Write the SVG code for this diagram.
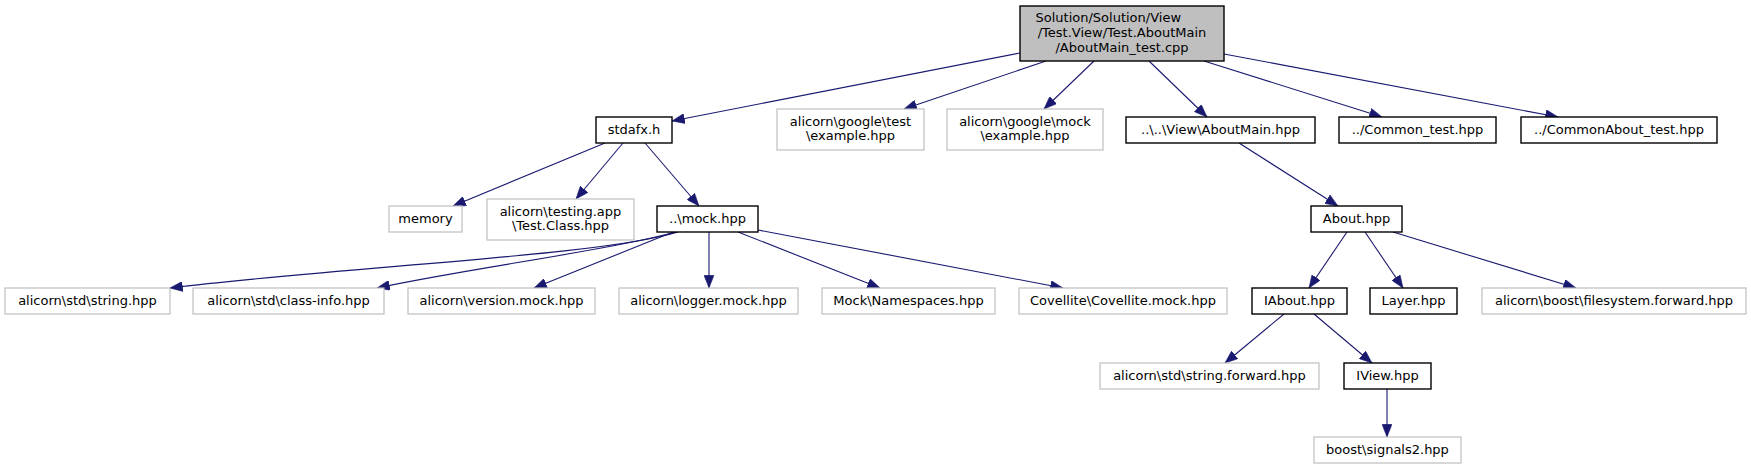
<svg xmlns="http://www.w3.org/2000/svg" width="1751" height="469" viewBox="0 0 1751 469">
<style>
rect{fill:#fff;stroke:#000;stroke-width:1.4}
.g rect{stroke:#bfbfbf;stroke-width:1.2}
.r rect{fill:#bfbfbf;stroke:#000}
text{font-family:"DejaVu Sans",sans-serif;font-size:13px;text-anchor:middle;fill:#000}
#edges path{fill:none;stroke:#191970;stroke-width:1.1;marker-end:url(#a)}
</style>
<defs>
<marker id="a" markerUnits="userSpaceOnUse" markerWidth="13" markerHeight="10" viewBox="0 0 12 9.5" refX="12" refY="4.75" orient="auto">
<path d="M0,0 L12,4.75 L0,9.5 z" fill="#191970" stroke="#191970" stroke-width="0.5"/>
</marker>
</defs>
<rect x="0" y="0" width="1751" height="469" style="fill:#fff;stroke:none"/>
<g id="edges">
<path d="M1020,53 L672,121"/>
<path d="M1046,61 L904,109"/>
<path d="M1094,61 L1044,109"/>
<path d="M1149,61 L1207,117"/>
<path d="M1204,61 L1382,117"/>
<path d="M1224,54 L1558,117"/>
<path d="M605,143 L453,206"/>
<path d="M623,143 L576,199"/>
<path d="M645,143 L699,206"/>
<path d="M678,232 C600,256 350,266 170,288"/>
<path d="M676,232 C600,252 470,268 377,288"/>
<path d="M673,232 L534,288"/>
<path d="M709,232 L709,288"/>
<path d="M738,232 L880,288"/>
<path d="M758,230 L1063,288"/>
<path d="M1239,143 L1338,206"/>
<path d="M1347,232 L1309,288"/>
<path d="M1365,232 L1403,288"/>
<path d="M1393,232 L1576,288"/>
<path d="M1284,314 L1225,363"/>
<path d="M1314,314 L1372,363"/>
<path d="M1387,389 L1387,437"/>
</g>
<g id="root" class="r"><rect x="1020" y="6" width="204" height="55"/>
<text x="1035.5" y="22" style="text-anchor:start">Solution/Solution/View</text>
<text x="1122" y="37">/Test.View/Test.AboutMain</text>
<text x="1122" y="51.5">/AboutMain_test.cpp</text></g>
<g id="stdafx"><rect x="596" y="117" width="76" height="26"/><text x="634" y="133.5">stdafx.h</text></g>
<g id="gtest" class="g"><rect x="777" y="109" width="147" height="41"/><text x="850.5" y="126">alicorn\google\test</text><text x="850.5" y="140">\example.hpp</text></g>
<g id="gmock" class="g"><rect x="947" y="109" width="156" height="41"/><text x="1025" y="126">alicorn\google\mock</text><text x="1025" y="140">\example.hpp</text></g>
<g id="aboutmain"><rect x="1126" y="117" width="189" height="26"/><text x="1220.5" y="133.5">..\..\View\AboutMain.hpp</text></g>
<g id="common"><rect x="1339" y="117" width="157" height="26"/><text x="1417.5" y="133.5">../Common_test.hpp</text></g>
<g id="commonabout"><rect x="1521" y="117" width="196" height="26"/><text x="1619" y="133.5">../CommonAbout_test.hpp</text></g>
<g id="memory" class="g"><rect x="389" y="206" width="73" height="26"/><text x="425.5" y="222.5">memory</text></g>
<g id="testing" class="g"><rect x="487" y="199" width="147" height="41"/><text x="560.5" y="216">alicorn\testing.app</text><text x="560.5" y="230">\Test.Class.hpp</text></g>
<g id="mock"><rect x="657" y="206" width="101" height="26"/><text x="707.5" y="222.5">..\mock.hpp</text></g>
<g id="about"><rect x="1311" y="206" width="91" height="26"/><text x="1356.5" y="222.5">About.hpp</text></g>
<g id="string" class="g"><rect x="5" y="288" width="165" height="26"/><text x="87.5" y="304.5">alicorn\std\string.hpp</text></g>
<g id="classinfo" class="g"><rect x="193" y="288" width="191" height="26"/><text x="288.5" y="304.5">alicorn\std\class-info.hpp</text></g>
<g id="version" class="g"><rect x="408" y="288" width="187" height="26"/><text x="501.5" y="304.5">alicorn\version.mock.hpp</text></g>
<g id="logger" class="g"><rect x="619" y="288" width="179" height="26"/><text x="708.5" y="304.5">alicorn\logger.mock.hpp</text></g>
<g id="namespaces" class="g"><rect x="822" y="288" width="173" height="26"/><text x="908.5" y="304.5">Mock\Namespaces.hpp</text></g>
<g id="covellite" class="g"><rect x="1019" y="288" width="208" height="26"/><text x="1123" y="304.5">Covellite\Covellite.mock.hpp</text></g>
<g id="iabout"><rect x="1252" y="288" width="95" height="26"/><text x="1299.5" y="304.5">IAbout.hpp</text></g>
<g id="layer"><rect x="1370" y="288" width="87" height="26"/><text x="1413.5" y="304.5">Layer.hpp</text></g>
<g id="filesystem" class="g"><rect x="1482" y="288" width="264" height="26"/><text x="1614" y="304.5">alicorn\boost\filesystem.forward.hpp</text></g>
<g id="stringfwd" class="g"><rect x="1100" y="363" width="219" height="26"/><text x="1209.5" y="379.5">alicorn\std\string.forward.hpp</text></g>
<g id="iview"><rect x="1344" y="363" width="87" height="26"/><text x="1387.5" y="379.5">IView.hpp</text></g>
<g id="signals2" class="g"><rect x="1314" y="437" width="147" height="26"/><text x="1387.5" y="453.5">boost\signals2.hpp</text></g>
</svg>
